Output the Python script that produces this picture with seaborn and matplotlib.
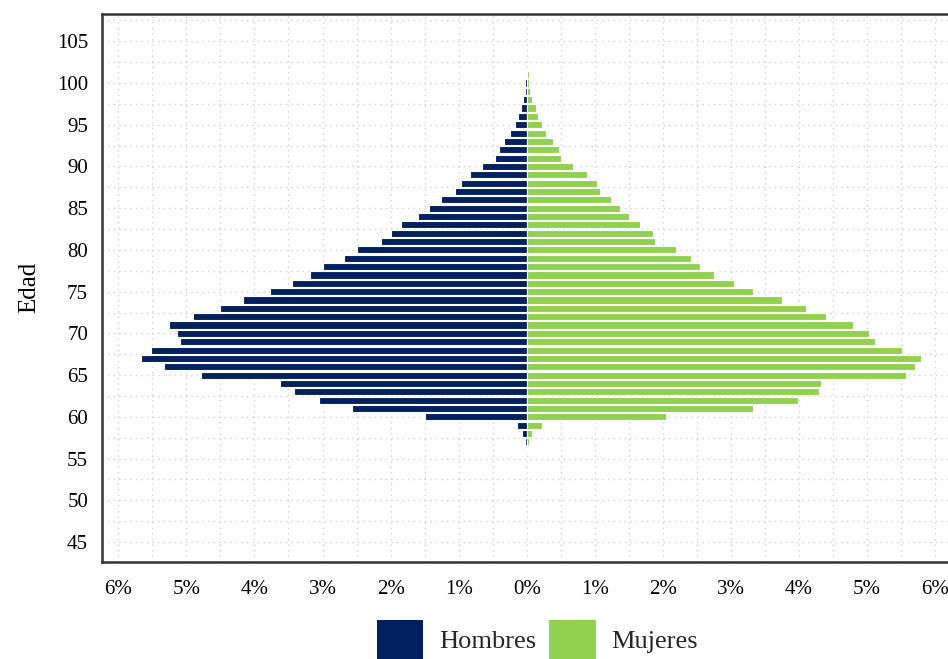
import numpy as np
import pandas as pd
import matplotlib
matplotlib.use("Agg")
import matplotlib.pyplot as plt
import seaborn as sns
from matplotlib.patches import Patch
from matplotlib.ticker import MultipleLocator, FuncFormatter

# Edades 56 a 101, porcentaje de la poblacion por sexo
edades = list(range(101, 55, -1))
hombres = [0.01, 0.02, 0.03, 0.05, 0.09, 0.13, 0.17, 0.25, 0.34, 0.40,
           0.47, 0.66, 0.84, 0.96, 1.05, 1.26, 1.44, 1.60, 1.85, 2.00,
           2.14, 2.49, 2.69, 3.00, 3.19, 3.45, 3.77, 4.17, 4.51, 4.91,
           5.26, 5.14, 5.09, 5.52, 5.66, 5.33, 4.78, 3.63, 3.42, 3.05,
           2.57, 1.49, 0.14, 0.07, 0.03, 0.015]
mujeres = [0.03, 0.035, 0.05, 0.08, 0.14, 0.16, 0.23, 0.29, 0.38, 0.48,
           0.51, 0.68, 0.88, 1.03, 1.07, 1.24, 1.37, 1.50, 1.67, 1.85,
           1.89, 2.19, 2.41, 2.54, 2.75, 3.04, 3.33, 3.75, 4.11, 4.40,
           4.80, 5.03, 5.12, 5.51, 5.79, 5.71, 5.57, 4.32, 4.29, 3.98,
           3.32, 2.05, 0.22, 0.08, 0.035, 0.0]
colores = {"Hombres": "#002060", "Mujeres": "#92D050"}

df = pd.DataFrame({
    "edad": edades * 2,
    "pct": [-v for v in hombres] + mujeres,
    "sexo": ["Hombres"] * len(edades) + ["Mujeres"] * len(edades),
})

sns.set_style("white")
plt.rcParams["font.family"] = ["Liberation Serif", "DejaVu Serif"]

fig = plt.figure(figsize=(9.48, 6.59), dpi=100)
ax = fig.add_axes([0.1076, 0.1476, 0.896, 0.8312])

sns.barplot(data=df, x="pct", y="edad", hue="sexo", orient="h",
            native_scale=True, dodge=False, palette=colores, saturation=1,
            width=0.85, edgecolor="white", linewidth=0.8, legend=False, ax=ax)

ax.set_xlim(-6.24, 6.24)
ax.set_ylim(42.64, 108.27)
ax.xaxis.set_major_locator(MultipleLocator(1))
ax.xaxis.set_minor_locator(MultipleLocator(0.5))
ax.yaxis.set_major_locator(MultipleLocator(5))
ax.yaxis.set_minor_locator(MultipleLocator(2.5))
ax.xaxis.set_major_formatter(FuncFormatter(lambda v, p: f"{abs(v):.0f}%"))
ax.yaxis.set_major_formatter(FuncFormatter(lambda v, p: f"{v:.0f}"))

ax.set_axisbelow(True)
ax.grid(which="both", color="#d0d0d0", linestyle=(0, (1, 3)), linewidth=1)

ax.tick_params(which="major", direction="out", length=5, width=2,
               color="#333333", labelsize=15, labelcolor="black")
ax.tick_params(which="minor", length=0)
ax.tick_params(axis="y", pad=5)
ax.tick_params(axis="x", pad=8.5)
for s in ax.spines.values():
    s.set_color("#333333")
    s.set_linewidth(1.8)

ax.set_xlabel("")
ax.set_ylabel("Edad", fontsize=18, labelpad=12, color="black")

handles = [Patch(facecolor=colores[k], edgecolor="none") for k in ["Hombres", "Mujeres"]]
fig.legend(handles, ["Hombres", "Mujeres"], loc="upper center",
           bbox_to_anchor=(0.567, 0.059), ncol=2, frameon=False, fontsize=19,
           handlelength=1.75, handleheight=1.9, handletextpad=0.6,
           columnspacing=0.5, borderpad=0, borderaxespad=0)

fig.savefig("out.png", dpi=100)
